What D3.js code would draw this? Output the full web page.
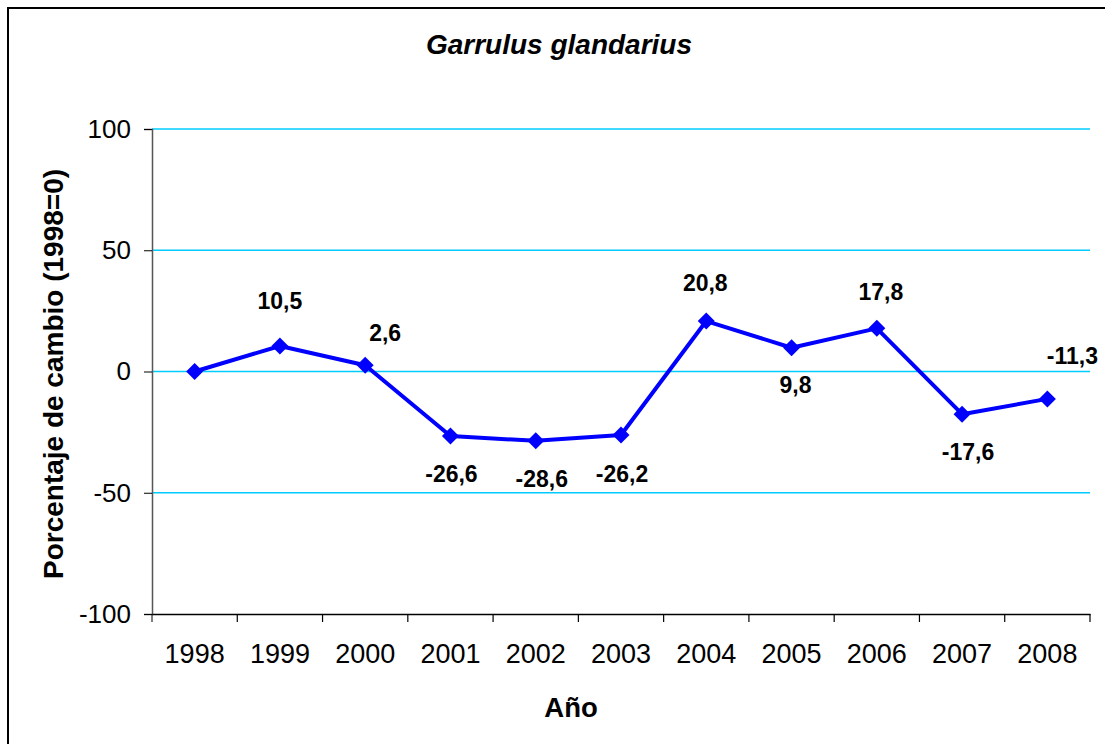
<!DOCTYPE html>
<html>
<head>
<meta charset="utf-8">
<script src="https://cdn.jsdelivr.net/npm/d3@7"></script>
<style>
  body { margin: 0; background: #fff; }
  svg { display: block; font-family: "Liberation Sans", Arial, sans-serif; }
</style>
</head>
<body>
<svg width="1105" height="744"></svg>
<script>
// Datos
const anios = ["1998", "1999", "2000", "2001", "2002", "2003", "2004", "2005", "2006", "2007", "2008"];
const cambio = [0, 10.5, 2.6, -26.6, -28.6, -26.2, 20.8, 9.8, 17.8, -17.6, -11.3];
const etiquetas = ["", "10,5", "2,6", "-26,6", "-28,6", "-26,2", "20,8", "9,8", "17,8", "-17,6", "-11,3"];
const yTicks = [-100, -50, 0, 50, 100];

// desplazamiento de cada etiqueta respecto a su punto
const labelDx = [0, 0, 20, 1, 6, 1, -1, 4, 4, 6, 25];
const labelDy = [0, -37, -24, 46, 46, 47, -30, 45, -28, 46, -35];

const svg = d3.select("svg");

// marco del gráfico (cortado a la derecha y abajo)
svg.append("rect")
  .attr("x", 8).attr("y", 8)
  .attr("width", 1200).attr("height", 800)
  .attr("fill", "none")
  .attr("stroke", "#000")
  .attr("stroke-width", 2);

const margin = { top: 129, left: 152, right: 1090, bottom: 614 };

const x = d3.scaleBand()
  .domain(anios)
  .range([margin.left, margin.right]);

const y = d3.scaleLinear()
  .domain([-100, 100])
  .range([margin.bottom, margin.top]);

// Líneas de cuadrícula
svg.append("g")
  .selectAll("line")
  .data(yTicks.filter(d => d > -100))
  .join("line")
  .attr("x1", margin.left).attr("x2", margin.right)
  .attr("y1", d => y(d)).attr("y2", d => y(d))
  .attr("stroke", "#00ccff")
  .attr("stroke-width", 1.5);

// Eje Y
const gy = svg.append("g")
  .attr("transform", `translate(${margin.left},0)`)
  .call(d3.axisLeft(y).tickValues(yTicks).tickSize(8).tickPadding(13).tickFormat(d => String(d)));
gy.select(".domain").attr("stroke", "#555").attr("stroke-width", 1.5);
gy.selectAll(".tick line").attr("stroke", "#000");
gy.selectAll("text")
  .attr("font-size", 26)
  .attr("fill", "#000")
  .attr("font-family", "Liberation Sans, Arial, sans-serif");

// Eje X
const gx = svg.append("g")
  .attr("transform", `translate(0,${margin.bottom})`)
  .call(d3.axisBottom(x).tickSize(0).tickPadding(30));
gx.select(".domain").attr("stroke", "#000").attr("stroke-width", 1.5);
gx.selectAll("text")
  .attr("font-size", 27)
  .attr("fill", "#000")
  .attr("font-family", "Liberation Sans, Arial, sans-serif");

// marcas entre categorías
svg.append("g")
  .selectAll("line")
  .data(anios)
  .join("line")
  .attr("x1", d => x(d) + x.bandwidth()).attr("x2", d => x(d) + x.bandwidth())
  .attr("y1", margin.bottom).attr("y2", margin.bottom + 8)
  .attr("stroke", "#000")
  .attr("stroke-width", 1.2);
svg.append("line")
  .attr("x1", margin.left).attr("x2", margin.left)
  .attr("y1", margin.bottom).attr("y2", margin.bottom + 8)
  .attr("stroke", "#000");

// Serie
const cx = i => x(anios[i]) + x.bandwidth() / 2;
svg.append("path")
  .datum(cambio)
  .attr("d", d3.line().x((d, i) => cx(i)).y(d => y(d)))
  .attr("fill", "none")
  .attr("stroke", "#0000ff")
  .attr("stroke-width", 4)
  .attr("stroke-linejoin", "round");

svg.append("g")
  .selectAll("path")
  .data(cambio)
  .join("path")
  .attr("transform", (d, i) => `translate(${cx(i)},${y(d)})`)
  .attr("d", "M0,-8.5L8.5,0L0,8.5L-8.5,0Z")
  .attr("fill", "#0000ff");

// Etiquetas de datos
svg.append("g")
  .selectAll("text")
  .data(cambio)
  .join("text")
  .attr("x", (d, i) => cx(i) + labelDx[i])
  .attr("y", (d, i) => y(d) + labelDy[i])
  .attr("text-anchor", "middle")
  .attr("font-size", 23)
  .attr("font-weight", "bold")
  .text((d, i) => etiquetas[i]);

// Título
svg.append("text")
  .attr("x", 559).attr("y", 54)
  .attr("text-anchor", "middle")
  .attr("font-size", 28)
  .attr("font-weight", "bold")
  .attr("font-style", "italic")
  .text("Garrulus glandarius");

// Títulos de ejes
svg.append("text")
  .attr("x", 571).attr("y", 717)
  .attr("text-anchor", "middle")
  .attr("font-size", 27.5)
  .attr("font-weight", "bold")
  .text("Año");

svg.append("text")
  .attr("transform", "translate(63,374) rotate(-90)")
  .attr("text-anchor", "middle")
  .attr("font-size", 28)
  .attr("font-weight", "bold")
  .text("Porcentaje de cambio (1998=0)");
</script>
</body>
</html>
